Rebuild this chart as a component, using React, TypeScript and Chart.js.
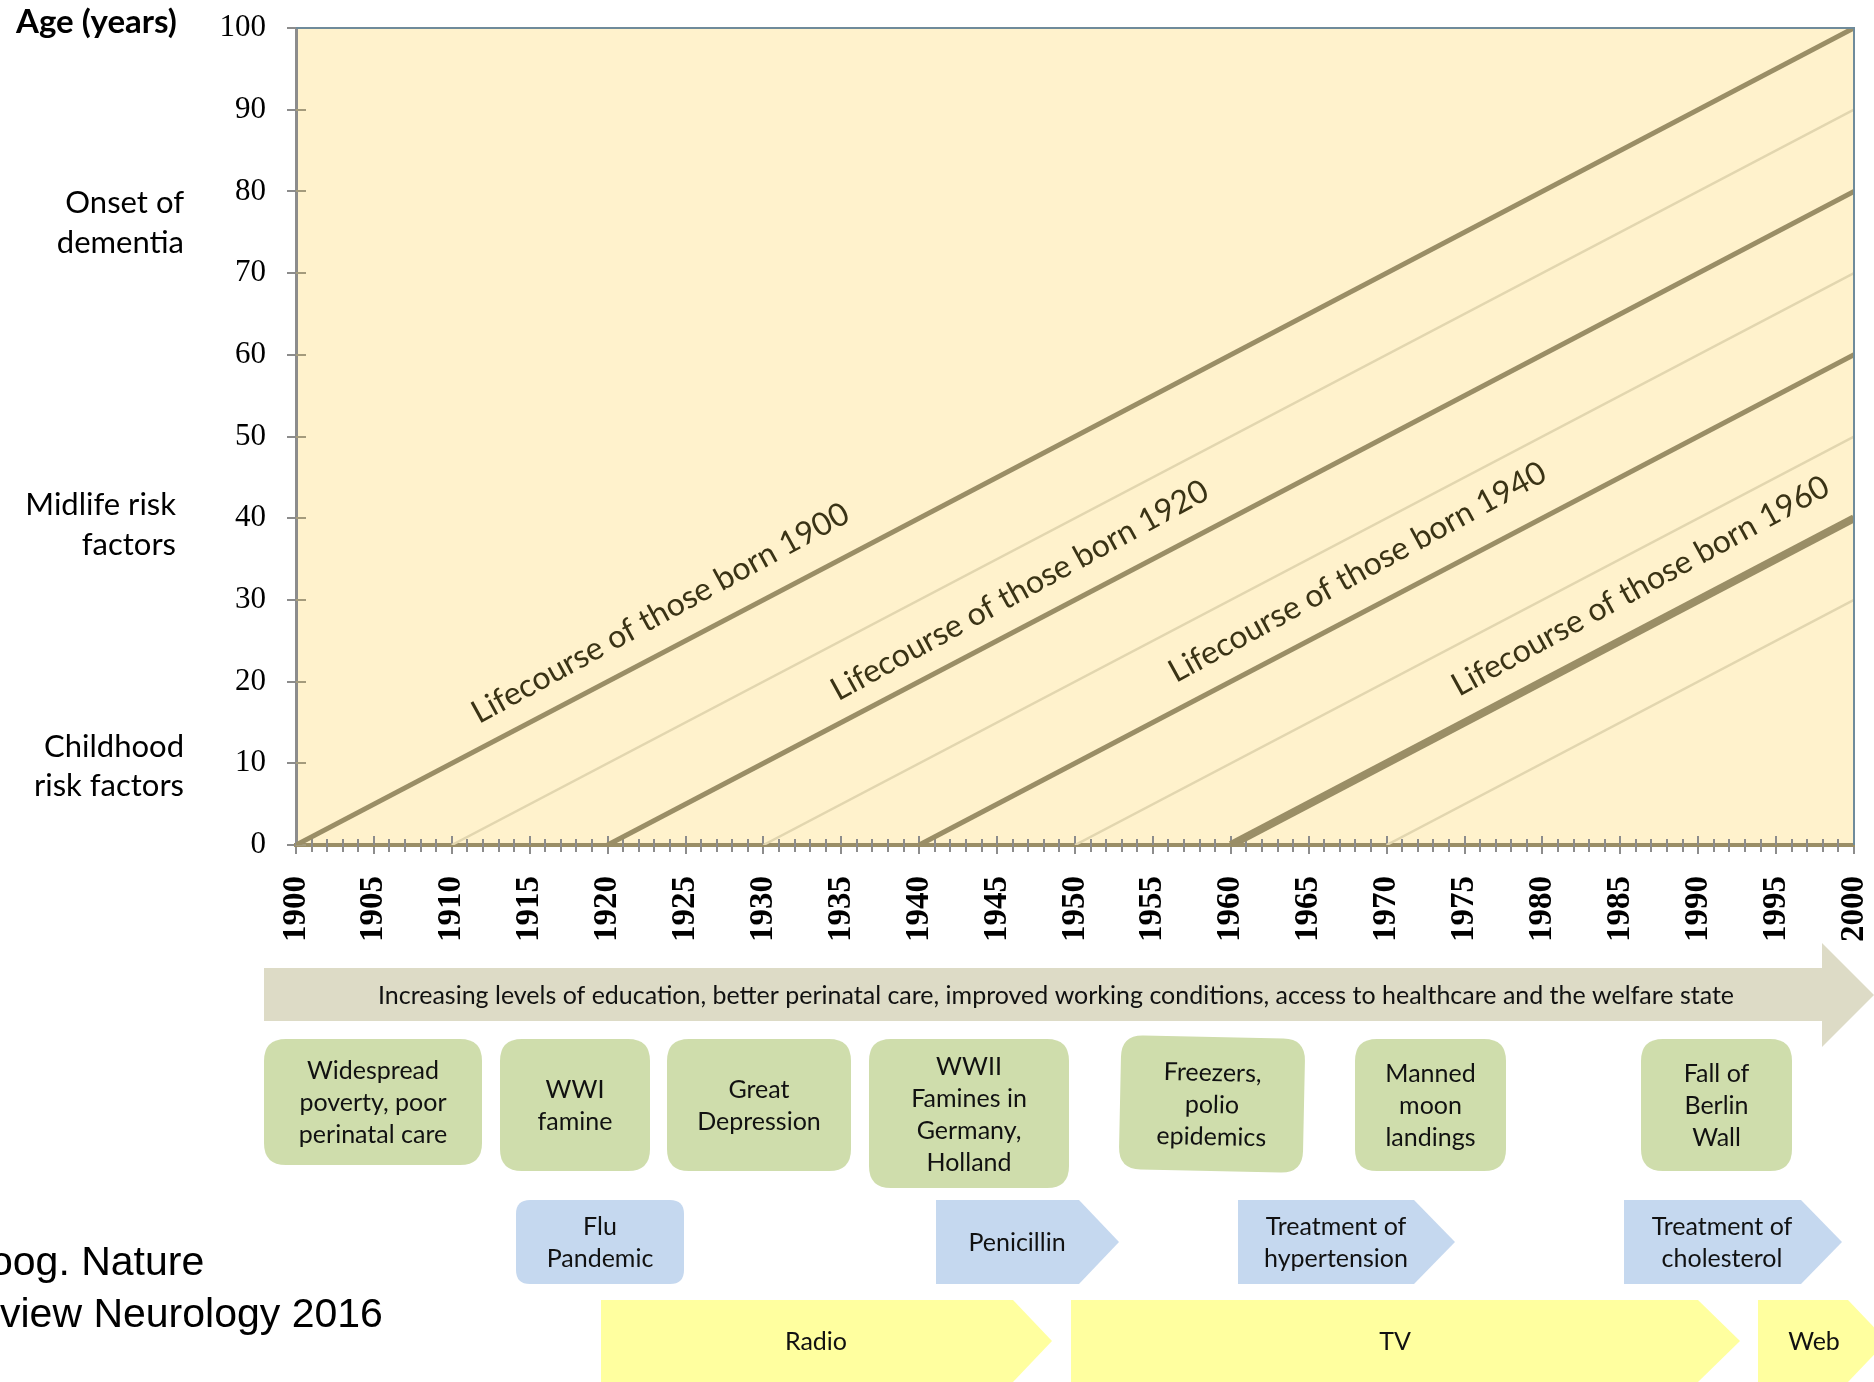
import React, { useEffect, useRef } from "react";
import { Chart, registerables } from "chart.js";

Chart.register(...registerables);

// ---------------- data ----------------
const endYear = 2000;
const thickCohorts = [1900, 1920, 1940, 1960];
const thickEndAges = [100, 80, 60, 40];
const thinCohorts = [1910, 1930, 1950, 1970];
const thinEndAges = [90, 70, 50, 30];
const cohortLabels = [
  "Lifecourse of those born 1900",
  "Lifecourse of those born 1920",
  "Lifecourse of those born 1940",
  "Lifecourse of those born 1960",
];
const cohortLabelStartYears = [1912.4, 1935.4, 1957.2, 1975.4];

const yTickValues = [0, 10, 20, 30, 40, 50, 60, 70, 80, 90, 100];
const xTickYears = [
  1900, 1905, 1910, 1915, 1920, 1925, 1930, 1935, 1940, 1945, 1950,
  1955, 1960, 1965, 1970, 1975, 1980, 1985, 1990, 1995, 2000,
];

const yAxisTitle = "Age (years)";
const lifeStageLabels = [
  ["Onset of", "dementia"],
  ["Midlife risk", "factors"],
  ["Childhood", "risk factors"],
];
const bannerText =
  "Increasing levels of education, better perinatal care, improved working conditions, access to healthcare and the welfare state";
const eventLabels = [
  ["Widespread", "poverty, poor", "perinatal care"],
  ["WWI", "famine"],
  ["Great", "Depression"],
  ["WWII", "Famines in", "Germany,", "Holland"],
  ["Freezers,", "polio", "epidemics"],
  ["Manned", "moon", "landings"],
  ["Fall of", "Berlin", "Wall"],
];
const healthLabels = [
  ["Flu", "Pandemic"],
  ["Penicillin"],
  ["Treatment of", "hypertension"],
  ["Treatment of", "cholesterol"],
];
const mediaLabels = ["Radio", "TV", "Web"];
const citationLines = ["oog. Nature", "view Neurology 2016"];

// ---------------- layout / style ----------------
const W = 1874;
const H = 1382;
const SANS = "Lato, 'Open Sans', sans-serif";
const SERIF = "'Liberation Serif', 'Times New Roman', serif";
const PLOT_BG = "#FFF2CC";
const THICK_COLOR = "#9A8E66";
const THIN_COLOR = "#E2D6AF";
const cohortLabelOffsets = [22, 20, 24, 25];
const cohortLabelExtraAngleDeg = 1.0;

const stageLayout = [
  { right: 184, baselines: [213, 253] },
  { right: 176, baselines: [515, 555] },
  { right: 184, baselines: [757, 796] },
];
const eventBoxes = [
  { x: 264, y: 1039, w: 218, h: 126, rot: 0 },
  { x: 500, y: 1039, w: 150, h: 132, rot: 0 },
  { x: 667, y: 1039, w: 184, h: 132, rot: 0 },
  { x: 869, y: 1039, w: 200, h: 149, rot: 0 },
  { x: 1120, y: 1037, w: 184, h: 134, rot: 1.2 },
  { x: 1355, y: 1039, w: 151, h: 132, rot: 0 },
  { x: 1641, y: 1039, w: 151, h: 132, rot: 0 },
];
const healthShapes = [
  { kind: "round", x: 516, body: 684, tip: 684, cx: 600 },
  { kind: "arrow", x: 936, body: 1079, tip: 1119, cx: 1017 },
  { kind: "arrow", x: 1238, body: 1414, tip: 1455, cx: 1336 },
  { kind: "arrow", x: 1624, body: 1801, tip: 1842, cx: 1722 },
];
const healthTop = 1200;
const healthBottom = 1284;
const mediaShapes = [
  { x: 601, body: 1013, tip: 1052, cx: 816 },
  { x: 1071, body: 1698, tip: 1740, cx: 1395 },
  { x: 1758, body: 1848, tip: 1887, cx: 1814 },
];
const mediaTop = 1300;
const mediaBottom = 1382;

function roundRect(ctx: CanvasRenderingContext2D, x: number, y: number, w: number, h: number, r: number) {
  ctx.beginPath();
  ctx.moveTo(x + r, y);
  ctx.lineTo(x + w - r, y);
  ctx.quadraticCurveTo(x + w, y, x + w, y + r);
  ctx.lineTo(x + w, y + h - r);
  ctx.quadraticCurveTo(x + w, y + h, x + w - r, y + h);
  ctx.lineTo(x + r, y + h);
  ctx.quadraticCurveTo(x, y + h, x, y + h - r);
  ctx.lineTo(x, y + r);
  ctx.quadraticCurveTo(x, y, x + r, y);
  ctx.closePath();
}

function pentagon(ctx: CanvasRenderingContext2D, x: number, body: number, tip: number, top: number, bottom: number) {
  ctx.beginPath();
  ctx.moveTo(x, top);
  ctx.lineTo(body, top);
  ctx.lineTo(tip, (top + bottom) / 2);
  ctx.lineTo(body, bottom);
  ctx.lineTo(x, bottom);
  ctx.closePath();
}

function drawLines(ctx: CanvasRenderingContext2D, lines: string[], cx: number, cy: number, lh: number) {
  const n = lines.length;
  lines.forEach((t, i) => {
    ctx.fillText(t, cx, cy + (i - (n - 1) / 2) * lh);
  });
}

const zeroPadding = (s: any) => {
  s.paddingTop = 0;
  s.paddingBottom = 0;
  s.paddingLeft = 0;
  s.paddingRight = 0;
};

const infographicPlugin = {
  id: "infographic",
  beforeDraw(chart: any) {
    const { ctx, chartArea: a } = chart;
    ctx.save();
    ctx.fillStyle = "#ffffff";
    ctx.fillRect(0, 0, W, H);
    ctx.fillStyle = PLOT_BG;
    ctx.fillRect(a.left, a.top, a.right - a.left, a.bottom - a.top);
    ctx.restore();
  },
  beforeDatasetsDraw(chart: any) {
    const { ctx, chartArea: a } = chart;
    const xs = chart.scales.x;
    const ys = chart.scales.y;
    ctx.save();
    ctx.lineWidth = 2;
    ctx.strokeStyle = "#A49B7C";
    yTickValues.forEach((v) => {
      const py = Math.round(ys.getPixelForValue(v));
      ctx.beginPath();
      ctx.moveTo(a.left, py);
      ctx.lineTo(a.left + 10, py);
      ctx.stroke();
    });
    ctx.strokeStyle = "#8C8C8C";
    for (let yr = 1901; yr < 2000; yr++) {
      const px = Math.round(xs.getPixelForValue(yr));
      ctx.beginPath();
      if (yr % 5 === 0) {
        ctx.moveTo(px, a.bottom - 9);
        ctx.lineTo(px, a.bottom);
      } else {
        ctx.moveTo(px, a.bottom - 6);
        ctx.lineTo(px, a.bottom + 7);
      }
      ctx.stroke();
    }
    ctx.restore();
  },
  afterDatasetsDraw(chart: any) {
    const { ctx, chartArea: a } = chart;
    const xs = chart.scales.x;
    const ys = chart.scales.y;
    ctx.save();
    ctx.strokeStyle = "#6F8B9B";
    ctx.lineWidth = 2;
    ctx.beginPath();
    ctx.moveTo(a.left, a.top);
    ctx.lineTo(a.right, a.top);
    ctx.lineTo(a.right, a.bottom);
    ctx.stroke();

    const dx = xs.getPixelForValue(2000) - xs.getPixelForValue(1900);
    const dy = ys.getPixelForValue(0) - ys.getPixelForValue(100);
    const ang = Math.atan2(dy, dx);
    const textAng = ang + (cohortLabelExtraAngleDeg * Math.PI) / 180;
    ctx.font = `32px ${SANS}`;
    ctx.fillStyle = "#3A3315";
    ctx.textAlign = "left";
    ctx.textBaseline = "alphabetic";
    thickCohorts.forEach((b, i) => {
      const sx = cohortLabelStartYears[i];
      const px = xs.getPixelForValue(sx);
      const py = ys.getPixelForValue(sx - b);
      const off = cohortLabelOffsets[i];
      const ox = px - off * Math.sin(ang);
      const oy = py - off * Math.cos(ang);
      ctx.save();
      ctx.translate(ox, oy);
      ctx.rotate(-textAng);
      ctx.fillText(cohortLabels[i], 0, 0);
      ctx.restore();
    });
    ctx.restore();
  },
  afterDraw(chart: any) {
    const { ctx } = chart;
    ctx.save();
    ctx.fillStyle = "#000";
    ctx.font = `bold 33px ${SANS}`;
    ctx.textAlign = "left";
    ctx.textBaseline = "alphabetic";
    ctx.fillText(yAxisTitle, 16, 33);

    ctx.font = `31px ${SANS}`;
    ctx.textAlign = "right";
    lifeStageLabels.forEach((lines, i) => {
      const L = stageLayout[i];
      lines.forEach((t, j) => ctx.fillText(t, L.right, L.baselines[j]));
    });

    ctx.fillStyle = "#DDDBC6";
    ctx.beginPath();
    ctx.moveTo(264, 968);
    ctx.lineTo(1822, 968);
    ctx.lineTo(1822, 943);
    ctx.lineTo(1874, 995);
    ctx.lineTo(1822, 1047);
    ctx.lineTo(1822, 1021);
    ctx.lineTo(264, 1021);
    ctx.closePath();
    ctx.fill();
    ctx.fillStyle = "#111";
    ctx.font = `25px ${SANS}`;
    ctx.textAlign = "center";
    ctx.textBaseline = "middle";
    ctx.fillText(bannerText, 1056, 996, 1356);

    eventBoxes.forEach((b, i) => {
      ctx.save();
      const cx = b.x + b.w / 2;
      const cy = b.y + b.h / 2;
      ctx.translate(cx, cy);
      ctx.rotate((b.rot * Math.PI) / 180);
      ctx.fillStyle = "#CFDDAC";
      roundRect(ctx, -b.w / 2, -b.h / 2, b.w, b.h, 22);
      ctx.fill();
      ctx.fillStyle = "#111";
      ctx.font = `25px ${SANS}`;
      ctx.textAlign = "center";
      ctx.textBaseline = "middle";
      drawLines(ctx, eventLabels[i], 0, 1, 32);
      ctx.restore();
    });

    healthShapes.forEach((s, i) => {
      ctx.fillStyle = "#C5D8EF";
      if (s.kind === "round") {
        roundRect(ctx, s.x, healthTop, s.body - s.x, healthBottom - healthTop, 14);
      } else {
        pentagon(ctx, s.x, s.body, s.tip, healthTop, healthBottom);
      }
      ctx.fill();
      ctx.fillStyle = "#111";
      ctx.font = `25px ${SANS}`;
      ctx.textAlign = "center";
      ctx.textBaseline = "middle";
      drawLines(ctx, healthLabels[i], s.cx, (healthTop + healthBottom) / 2 + 1, 32);
    });

    mediaShapes.forEach((s, i) => {
      ctx.fillStyle = "#FFFF9F";
      pentagon(ctx, s.x, s.body, s.tip, mediaTop, mediaBottom);
      ctx.fill();
      ctx.fillStyle = "#111";
      ctx.font = `25px ${SANS}`;
      ctx.textAlign = "center";
      ctx.textBaseline = "middle";
      ctx.fillText(mediaLabels[i], s.cx, (mediaTop + mediaBottom) / 2 + 1);
    });

    ctx.fillStyle = "#000";
    ctx.font = `41px 'Liberation Sans', Arial, sans-serif`;
    ctx.textAlign = "left";
    ctx.textBaseline = "alphabetic";
    ctx.fillText(citationLines[0], -10, 1275);
    ctx.fillText(citationLines[1], 0, 1327);
    ctx.restore();
  },
};

export default function App() {
  const ref = useRef<HTMLCanvasElement>(null);
  useEffect(() => {
    if (!ref.current) return;
    const datasets: any[] = [
      ...thinCohorts.map((b, i) => ({
        label: `born ${b}`,
        data: [
          { x: b, y: 0 },
          { x: endYear, y: thinEndAges[i] },
        ],
        borderColor: THIN_COLOR,
        borderWidth: 2.5,
        pointRadius: 0,
        fill: false,
      })),
      ...thickCohorts.map((b, i) => ({
        label: `born ${b}`,
        data: [
          { x: b, y: 0 },
          { x: endYear, y: thickEndAges[i] },
        ],
        borderColor: THICK_COLOR,
        borderWidth: i === 3 ? 8 : 5,
        pointRadius: 0,
        fill: false,
      })),
    ];
    const chart = new Chart(ref.current, {
      type: "line",
      data: { datasets },
      plugins: [infographicPlugin],
      options: {
        responsive: false,
        animation: false,
        devicePixelRatio: 1,
        events: [],
        layout: { padding: { left: 196, top: 28, right: 20, bottom: 427 } },
        plugins: { legend: { display: false }, tooltip: { enabled: false } },
        scales: {
          x: {
            type: "linear",
            min: 1900,
            max: 2000,
            afterBuildTicks: (s: any) => {
              s.ticks = xTickYears.map((v) => ({ value: v }));
            },
            afterFit: (s: any) => {
              s.height = 110;
              zeroPadding(s);
            },
            ticks: {
              autoSkip: false,
              minRotation: 90,
              maxRotation: 90,
              padding: 22,
              color: "#000",
              font: { family: SERIF, size: 33, weight: "bold" },
              callback: (v: any) => String(v),
            },
            grid: { drawOnChartArea: false, drawTicks: true, tickLength: 9, color: "#8C8C8C", lineWidth: 2 },
            border: { display: true, color: "#9A8E66", width: 4 },
          },
          y: {
            type: "linear",
            min: 0,
            max: 100,
            afterBuildTicks: (s: any) => {
              s.ticks = yTickValues.map((v) => ({ value: v }));
            },
            afterFit: (s: any) => {
              s.width = 100;
              zeroPadding(s);
            },
            ticks: {
              padding: 21,
              color: "#000",
              font: { family: SERIF, size: 31 },
              callback: (v: any) => String(v),
            },
            grid: { drawOnChartArea: false, drawTicks: true, tickLength: 9, color: "#8C8C8C", lineWidth: 2 },
            border: { display: true, color: "#8C8C8C", width: 3 },
          },
        },
      } as any,
    });
    return () => chart.destroy();
  }, []);
  return (
    <div style={{ position: "absolute", left: 0, top: 0, width: W, height: H, background: "#fff" }}>
      <canvas ref={ref} width={W} height={H} style={{ display: "block", width: W, height: H }} />
    </div>
  );
}
